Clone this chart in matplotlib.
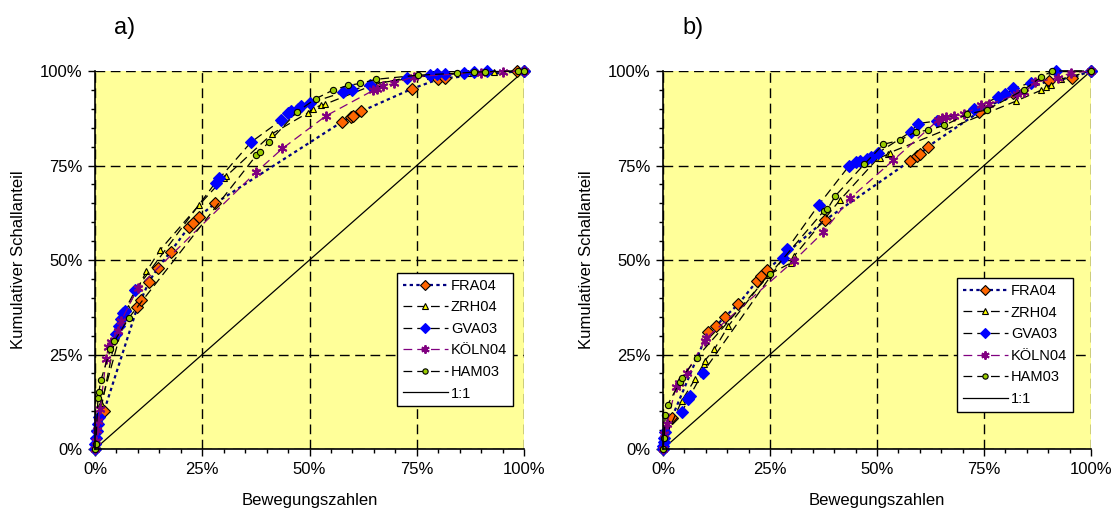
import numpy as np
import matplotlib
matplotlib.use("Agg")
import matplotlib.pyplot as plt
from matplotlib.ticker import MultipleLocator, FuncFormatter

plt.rcParams['font.family'] = ['Liberation Sans', 'DejaVu Sans']

# cumulative share of movements (x) vs. cumulative noise share (y), in %
# panel a)
fra04_a_x = [0, 2.1, 9.9, 10.7, 12.6, 14.7, 17.6, 21.8, 22.8, 24.2, 28.0, 57.5, 59.7, 60.1, 62.0, 73.9, 80.0, 81.7, 98.4, 100]
fra04_a_y = [0, 10.0, 37.6, 39.4, 44.3, 48.0, 52.2, 58.6, 59.9, 61.5, 65.0, 86.5, 87.9, 88.1, 89.3, 95.3, 97.8, 98.1, 99.9, 100]
zrh04_a_x = [0, 0.3, 1.5, 7.6, 12.0, 15.2, 24.3, 30.0, 30.6, 41.3, 49.7, 50.7, 52.7, 53.6, 66.0, 78.0, 87.0, 93.0, 100]
zrh04_a_y = [0, 2.0, 12.3, 37.4, 47.0, 52.7, 64.6, 71.6, 72.2, 83.4, 89.0, 89.9, 91.0, 91.2, 96.8, 98.8, 99.5, 99.8, 100]
gva03_a_x = [0, 0.1, 0.3, 0.5, 0.7, 1.0, 4.9, 5.7, 6.1, 6.5, 6.9, 9.4, 28.1, 29.0, 36.4, 43.4, 45.0, 45.8, 47.3, 48.1,
             50.1, 57.9, 59.8, 64.1, 72.7, 78.2, 79.7, 81.7, 86.0, 88.3, 91.4, 100]
gva03_a_y = [0, 1.3, 3.0, 4.8, 6.5, 8.4, 30.4, 32.6, 34.4, 35.9, 36.6, 42.0, 70.5, 71.6, 81.2, 87.0, 88.8, 89.3, 90.0, 90.7,
             91.5, 94.4, 94.9, 96.3, 98.2, 98.9, 99.1, 99.2, 99.4, 99.7, 100, 100]
koeln04_a_x = [0, 0.2, 0.5, 0.8, 1.2, 2.6, 3.1, 3.7, 5.3, 6.1, 10.0, 37.6, 43.7, 53.8, 64.9, 65.8, 67.2, 69.6, 74.3, 90.0, 95.0, 100]
koeln04_a_y = [0, 2.0, 5.0, 7.5, 10.5, 23.8, 26.9, 28.2, 31.3, 33.9, 42.7, 73.3, 79.5, 88.1, 94.9, 95.3, 96.0, 96.7, 98.5, 99.6, 99.8, 100]
ham03_a_x = [0, 0.2, 0.7, 0.9, 1.4, 3.6, 4.5, 7.9, 37.6, 38.5, 40.5, 47.1, 51.5, 55.4, 59.0, 61.8, 65.5, 75.4, 84.4, 88.3, 91.0, 98.5, 100]
ham03_a_y = [0, 1.3, 13.5, 15.2, 18.3, 26.4, 28.5, 34.7, 77.7, 78.7, 81.2, 89.2, 92.7, 94.9, 96.2, 96.7, 97.8, 98.9, 99.4, 99.7, 99.8, 100, 100]

# panel b)
fra04_b_x = [0, 2.0, 10.5, 12.4, 14.5, 17.6, 22.0, 22.8, 24.2, 37.8, 57.7, 59.4, 60.1, 61.9, 73.9, 81.7, 90.2, 95.5, 100]
fra04_b_y = [0, 8.1, 31.0, 32.6, 35.0, 38.3, 44.5, 45.8, 47.3, 60.5, 76.2, 77.5, 78.0, 80.0, 89.2, 94.1, 97.4, 98.2, 100]
zrh04_b_x = [0, 0.5, 4.4, 7.5, 9.5, 9.7, 12.0, 15.3, 24.5, 30.0, 30.7, 41.3, 50.2, 50.7, 52.6, 53.0, 82.4, 88.3, 89.5, 90.6, 93.0, 100]
zrh04_b_y = [0, 3.0, 12.8, 18.5, 22.6, 23.3, 26.4, 32.6, 46.0, 49.3, 51.1, 65.8, 76.9, 77.1, 78.0, 78.4, 92.0, 94.9, 95.8, 96.3, 97.8, 100]
gva03_b_x = [0, 0.1, 0.2, 0.3, 0.5, 4.4, 5.9, 6.3, 9.3, 28.1, 29.0, 36.4, 43.4, 45.0, 46.0, 47.7, 48.5, 50.3, 57.9, 59.6,
             64.1, 72.7, 78.2, 79.8, 81.7, 86.0, 91.8, 100]
gva03_b_y = [0, 0.8, 1.8, 2.8, 4.4, 9.7, 13.2, 14.1, 20.2, 50.5, 52.9, 64.6, 74.8, 75.8, 76.2, 76.8, 77.3, 78.4, 83.9, 86.1,
             86.8, 90.0, 93.1, 93.8, 95.4, 96.9, 100, 100]
koeln04_b_x = [0, 0.3, 0.9, 3.0, 3.7, 5.5, 9.8, 10.1, 30.6, 37.4, 43.7, 53.8, 64.3, 65.3, 66.1, 68.0, 70.4, 74.3, 76.2,
               82.8, 84.4, 87.0, 92.2, 95.3, 100]
koeln04_b_y = [0, 4.0, 6.6, 16.3, 17.4, 20.2, 28.6, 29.3, 49.8, 57.3, 66.3, 76.4, 87.0, 87.5, 87.7, 88.1, 88.5, 91.0, 91.2,
               93.8, 94.4, 97.0, 98.2, 99.5, 100]
ham03_b_x = [0, 0.3, 0.5, 1.1, 3.9, 4.4, 7.9, 25.0, 37.6, 38.4, 40.3, 47.0, 51.5, 55.4, 59.0, 61.8, 65.7, 71.0, 75.8, 84.4, 88.3, 91.0, 100]
ham03_b_y = [0, 3.0, 9.1, 11.7, 17.6, 18.8, 24.2, 46.3, 63.0, 63.4, 67.0, 75.3, 80.6, 81.7, 83.9, 84.3, 85.6, 88.5, 89.8, 95.1, 98.4, 100, 100]

series_names = ['FRA04', 'ZRH04', 'GVA03', 'KÖLN04', 'HAM03']
panel_labels = ['a)', 'b)']

# line/marker style per series
styles = [
    dict(color='#000080', ls=(0, (1.5, 1.5)), lw=1.6, marker='D', ms=6, mfc='#FF6600', mec='black', mew=0.8),
    dict(color='black', ls=(0, (7, 4)), lw=0.9, marker='^', ms=5, mfc='#FFFF00', mec='black', mew=0.8),
    dict(color='black', ls=(0, (7, 4)), lw=0.9, marker='D', ms=6, mfc='#0000FF', mec='#0000FF', mew=0.8),
    dict(color='#800080', ls=(0, (7, 4)), lw=0.9, marker=(6, 2, 0), ms=7, mfc='#800080', mec='#800080', mew=1.4),
    dict(color='black', ls=(0, (7, 4)), lw=0.9, marker='o', ms=4.5, mfc='#99CC00', mec='black', mew=0.8),
]

fig = plt.figure(figsize=(11.19, 5.11), dpi=100)
W, H = 1119, 511
ax_a = fig.add_axes([95 / W, 62 / H, 429 / W, 378 / H])
ax_b = fig.add_axes([663 / W, 62 / H, 428 / W, 378 / H])

panels = [
    (ax_a, [(fra04_a_x, fra04_a_y), (zrh04_a_x, zrh04_a_y), (gva03_a_x, gva03_a_y),
            (koeln04_a_x, koeln04_a_y), (ham03_a_x, ham03_a_y)], (0.704, 0.466)),
    (ax_b, [(fra04_b_x, fra04_b_y), (zrh04_b_x, zrh04_b_y), (gva03_b_x, gva03_b_y),
            (koeln04_b_x, koeln04_b_y), (ham03_b_x, ham03_b_y)], (0.687, 0.452)),
]

pct = FuncFormatter(lambda v, pos: f"{v:.0f}%")

for i, (ax, data, leg_pos) in enumerate(panels):
    ax.set_facecolor('#FFFF99')
    for name, (xs, ys), st in zip(series_names, data, styles):
        ax.plot(xs, ys, label=name, clip_on=False, **st)
    ax.plot([0, 100], [0, 100], color='black', lw=0.9, label='1:1', zorder=1)

    ax.set_xlim(0, 100)
    ax.set_ylim(0, 100)
    ax.xaxis.set_major_locator(MultipleLocator(25))
    ax.yaxis.set_major_locator(MultipleLocator(25))
    ax.xaxis.set_minor_locator(MultipleLocator(5))
    ax.yaxis.set_minor_locator(MultipleLocator(5))
    ax.xaxis.set_major_formatter(pct)
    ax.yaxis.set_major_formatter(pct)
    ax.tick_params(which='major', direction='out', length=5, width=1, labelsize=12, pad=4)
    ax.tick_params(which='minor', direction='out', length=3, width=1)
    ax.grid(True, which='major', color='black', ls=(0, (7, 4)), lw=1)
    ax.set_axisbelow(True)
    for side in ['top', 'right']:
        ax.spines[side].set_visible(False)
    for side in ['left', 'bottom']:
        ax.spines[side].set_linewidth(1.2)

    leg = ax.legend(loc='upper left', bbox_to_anchor=leg_pos, borderaxespad=0, fontsize=10.5,
                    handlelength=3.1, handletextpad=0.2, labelspacing=0.52, borderpad=0.4,
                    fancybox=False, framealpha=1, edgecolor='black', markerscale=0.85)
    leg.get_frame().set_linewidth(1.0)

    box = ax.get_position()
    fig.text(box.x0 - 0.068, box.y0 + box.height / 2, 'Kumulativer Schallanteil',
             rotation=90, ha='center', va='center', fontsize=12)
    fig.text(box.x0 + box.width / 2, 11 / H, 'Bewegungszahlen', ha='center', va='center', fontsize=12)
    fig.text(box.x0 + 30 / W, 1 - 28 / H, panel_labels[i], ha='center', va='center', fontsize=17)

fig.savefig('out.png', dpi=100)
